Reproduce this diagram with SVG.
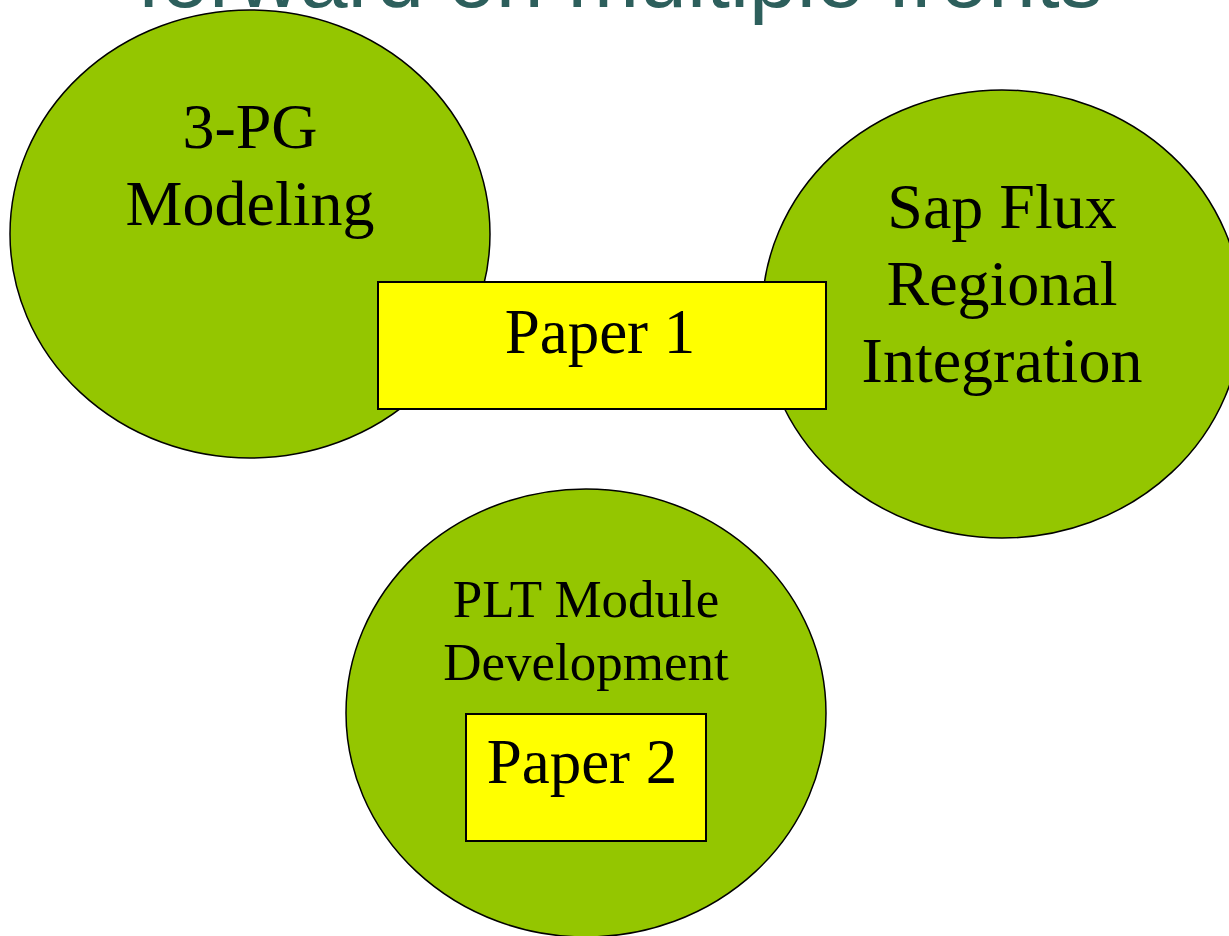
<svg xmlns="http://www.w3.org/2000/svg" width="1229" height="936" viewBox="0 0 1229 936">
<style>
.oval{fill:#94C600;stroke:#000;stroke-width:1.5}
.box{fill:#FFFF00;stroke:#000;stroke-width:2}
.t{font-family:"Liberation Serif","Times New Roman",serif;fill:#000;text-anchor:middle}
.title{font-family:"Liberation Sans",Arial,sans-serif;fill:#2D5F5C;font-size:86px;text-anchor:middle}
</style>
<rect width="1229" height="936" fill="#fff"/>
<text class="title" x="620" y="7">forward on multiple fronts</text>
<g id="connectors"/>
<g id="node-3pg">
<ellipse class="oval" cx="250" cy="234" rx="240" ry="224"/>
<text class="t" x="250" y="148" font-size="64">3-PG</text>
<text class="t" x="250" y="225" font-size="64">Modeling</text>
</g>
<g id="node-sapflux">
<ellipse class="oval" cx="1002" cy="314" rx="240" ry="224"/>
<text class="t" x="1002" y="228" font-size="64">Sap Flux</text>
<text class="t" x="1002" y="305" font-size="64">Regional</text>
<text class="t" x="1002" y="382" font-size="64">Integration</text>
</g>
<g id="node-paper1">
<rect class="box" x="378" y="282" width="448" height="127"/>
<text class="t" x="600" y="353" font-size="63">Paper 1</text>
</g>
<g id="node-plt">
<ellipse class="oval" cx="586" cy="713" rx="240" ry="224"/>
<text class="t" x="586" y="617" font-size="53">PLT Module</text>
<text class="t" x="586" y="680" font-size="53">Development</text>
</g>
<g id="node-paper2">
<rect class="box" x="466" y="714" width="240" height="127"/>
<text class="t" x="582" y="783" font-size="63">Paper 2</text>
</g>
</svg>
